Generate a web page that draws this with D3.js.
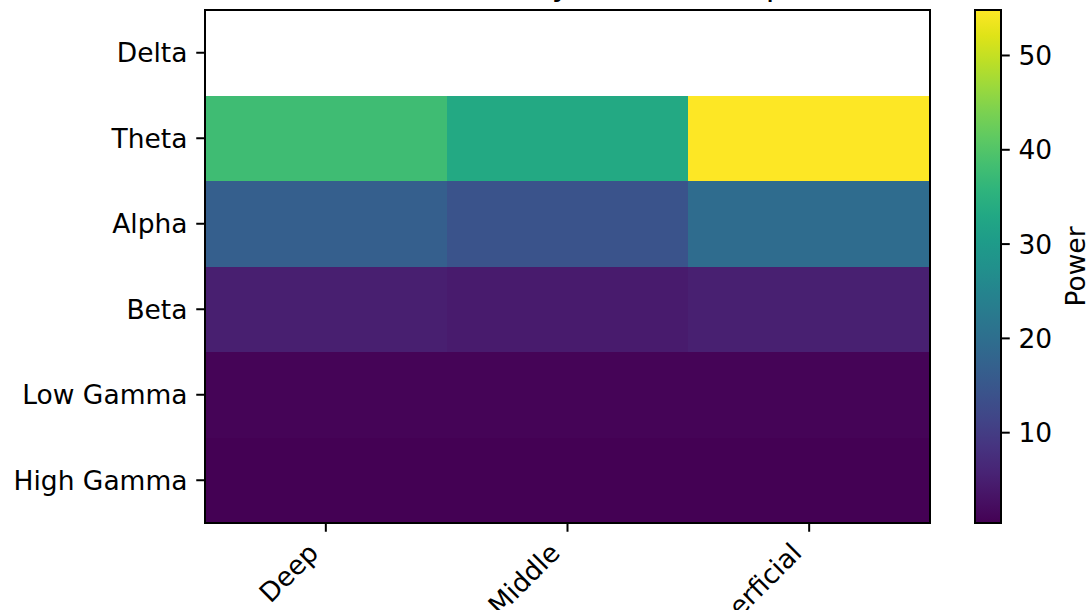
<!DOCTYPE html>
<html>
<head>
<meta charset="utf-8">
<script src="https://cdn.jsdelivr.net/npm/d3@7"></script>
<style>
  html, body { margin: 0; padding: 0; background: #fff; overflow: hidden; }
  svg { display: block; font-family: "DejaVu Sans", sans-serif; }
</style>
</head>
<body>
<svg id="chart" width="1092" height="610"></svg>
<script>
// ---- data ----
const bands = ["Delta", "Theta", "Alpha", "Beta", "Low Gamma", "High Gamma"];
const layers = ["Deep", "Middle", "Superficial"];
const deepValues        = [null, 37.8, 16.7, 4.9, 0.9, 0.37];
const middleValues      = [null, 33.2, 14.3, 4.3, 0.85, 0.37];
const superficialValues = [null, 54.77, 19.3, 5.1, 0.9, 0.37];
const colorbarTicks = [10, 20, 30, 40, 50];
const colorbarLabel = "Power";
const titleText = "Band Power by Laminar Depth";

const seriesByLayer = [deepValues, middleValues, superficialValues];
const cells = [];
layers.forEach((layer, j) => {
  bands.forEach((band, i) => {
    cells.push({ band, layer, value: seriesByLayer[j][i] });
  });
});

// ---- layout ----
const svg = d3.select("#chart");
const plot = { left: 205, right: 930, top: 10, bottom: 523 };
const cbar = { left: 975, right: 1001 };
const fontSize = 26.5;
const tickLen = 8.75;
const tickPad = 8.75;

const allVals = cells.map(d => d.value).filter(v => v != null);
const vmin = d3.min(allVals), vmax = d3.max(allVals);
const color = d3.scaleSequential(d3.interpolateViridis).domain([vmin, vmax]);

const x = d3.scaleBand().domain(layers).range([plot.left, plot.right]).padding(0);
const y = d3.scaleBand().domain(bands).range([plot.top, plot.bottom]).padding(0);

// ---- cells ----
svg.append("g").selectAll("rect")
  .data(cells.filter(d => d.value != null))
  .join("rect")
  .attr("x", d => x(d.layer))
  .attr("y", d => y(d.band))
  .attr("width", x.bandwidth() + 0.5)
  .attr("height", y.bandwidth() + 0.5)
  .attr("fill", d => color(d.value))
  .attr("shape-rendering", "crispEdges");

// ---- axes ----
const yAxis = d3.axisLeft(y).tickSize(tickLen).tickPadding(tickPad);
const gy = svg.append("g").attr("transform", `translate(${plot.left},0)`).call(yAxis);
gy.select(".domain").remove();
gy.selectAll("line").attr("stroke", "#000").attr("stroke-width", 2);
gy.selectAll("text").attr("font-size", fontSize).attr("fill", "#000")
  .attr("font-family", "DejaVu Sans").attr("dy", "0.36em");

const xAxis = d3.axisBottom(x).tickSize(tickLen).tickPadding(tickPad);
const gx = svg.append("g").attr("transform", `translate(0,${plot.bottom})`).call(xAxis);
gx.select(".domain").remove();
gx.selectAll("line").attr("stroke", "#000").attr("stroke-width", 2);
gx.selectAll("text")
  .attr("font-size", fontSize).attr("fill", "#000").attr("font-family", "DejaVu Sans")
  .attr("text-anchor", "end")
  .attr("dy", null)
  .attr("y", null)
  .attr("transform", `translate(-6,${tickLen + tickPad + 14}) rotate(-45)`);

// frame
svg.append("rect")
  .attr("x", plot.left).attr("y", plot.top)
  .attr("width", plot.right - plot.left).attr("height", plot.bottom - plot.top)
  .attr("fill", "none").attr("stroke", "#000").attr("stroke-width", 2);

// title (mostly clipped at top)
svg.append("text")
  .attr("x", (plot.left + plot.right) / 2 + 8).attr("y", -5)
  .attr("text-anchor", "middle").attr("font-size", 32).attr("fill", "#000")
  .text(titleText);

// ---- colorbar ----
const cy = d3.scaleLinear().domain([vmin, vmax]).range([plot.bottom, plot.top]);
const defs = svg.append("defs");
const grad = defs.append("linearGradient").attr("id", "cbgrad")
  .attr("x1", 0).attr("y1", 1).attr("x2", 0).attr("y2", 0);
d3.range(0, 1.0001, 0.05).forEach(t => {
  grad.append("stop").attr("offset", t).attr("stop-color", d3.interpolateViridis(t));
});
svg.append("rect")
  .attr("x", cbar.left).attr("y", plot.top)
  .attr("width", cbar.right - cbar.left).attr("height", plot.bottom - plot.top)
  .attr("fill", "url(#cbgrad)");
const cAxis = d3.axisRight(cy).tickValues(colorbarTicks).tickSize(tickLen).tickPadding(tickPad)
  .tickFormat(d3.format("d"));
const gc = svg.append("g").attr("transform", `translate(${cbar.right},0)`).call(cAxis);
gc.select(".domain").remove();
gc.selectAll("line").attr("stroke", "#000").attr("stroke-width", 2);
gc.selectAll("text").attr("font-size", fontSize).attr("fill", "#000")
  .attr("font-family", "DejaVu Sans").attr("dy", "0.36em");
svg.append("rect")
  .attr("x", cbar.left).attr("y", plot.top)
  .attr("width", cbar.right - cbar.left).attr("height", plot.bottom - plot.top)
  .attr("fill", "none").attr("stroke", "#000").attr("stroke-width", 2);
svg.append("text")
  .attr("transform", `translate(1085,${(plot.top + plot.bottom) / 2}) rotate(-90)`)
  .attr("text-anchor", "middle").attr("font-size", fontSize).attr("fill", "#000")
  .text(colorbarLabel);
</script>
</body>
</html>
